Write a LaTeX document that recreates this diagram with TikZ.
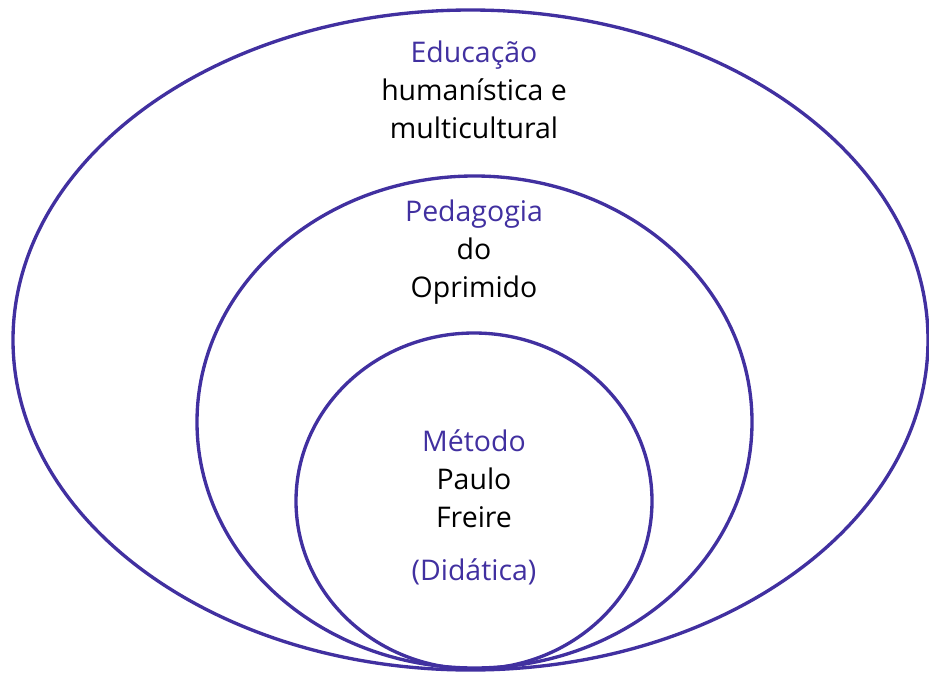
\documentclass[tikz,border=0pt]{standalone}
\usepackage{fontspec}
\setmainfont{Open Sans}
\usepackage{xcolor}
\usepackage{tikz}
\usetikzlibrary{positioning}
\definecolor{roxo}{HTML}{4130A0}

\begin{document}
\begin{tikzpicture}[x=0.02cm, y=-0.02cm,
    anel/.style={draw=roxo, line width=1.9pt},
    rotulo/.style={align=center, inner sep=0pt, font=\fontsize{16.2}{21.6}\selectfont}]
\useasboundingbox (0,0) rectangle (929,679);

\draw[anel] (470.5,340) ellipse (457.5*0.02cm and 330*0.02cm);
\draw[anel] (474.5,422) ellipse (277.5*0.02cm and 246*0.02cm);
\draw[anel] (474,501) ellipse (178*0.02cm and 168*0.02cm);

\node[rotulo] (educacao) at (474,90) {\textcolor{roxo}{Educação}\\humanística e\\multicultural};
\node[rotulo] (pedagogia) at (474,252) {\textcolor{roxo}{Pedagogia}\\do\\Oprimido};
\node[rotulo] (metodo) at (474,479) {\textcolor{roxo}{Método}\\Paulo\\Freire};
\node[rotulo, text=roxo, below=0.6cm of metodo] (didatica) {(Didática)};

\end{tikzpicture}
\end{document}
